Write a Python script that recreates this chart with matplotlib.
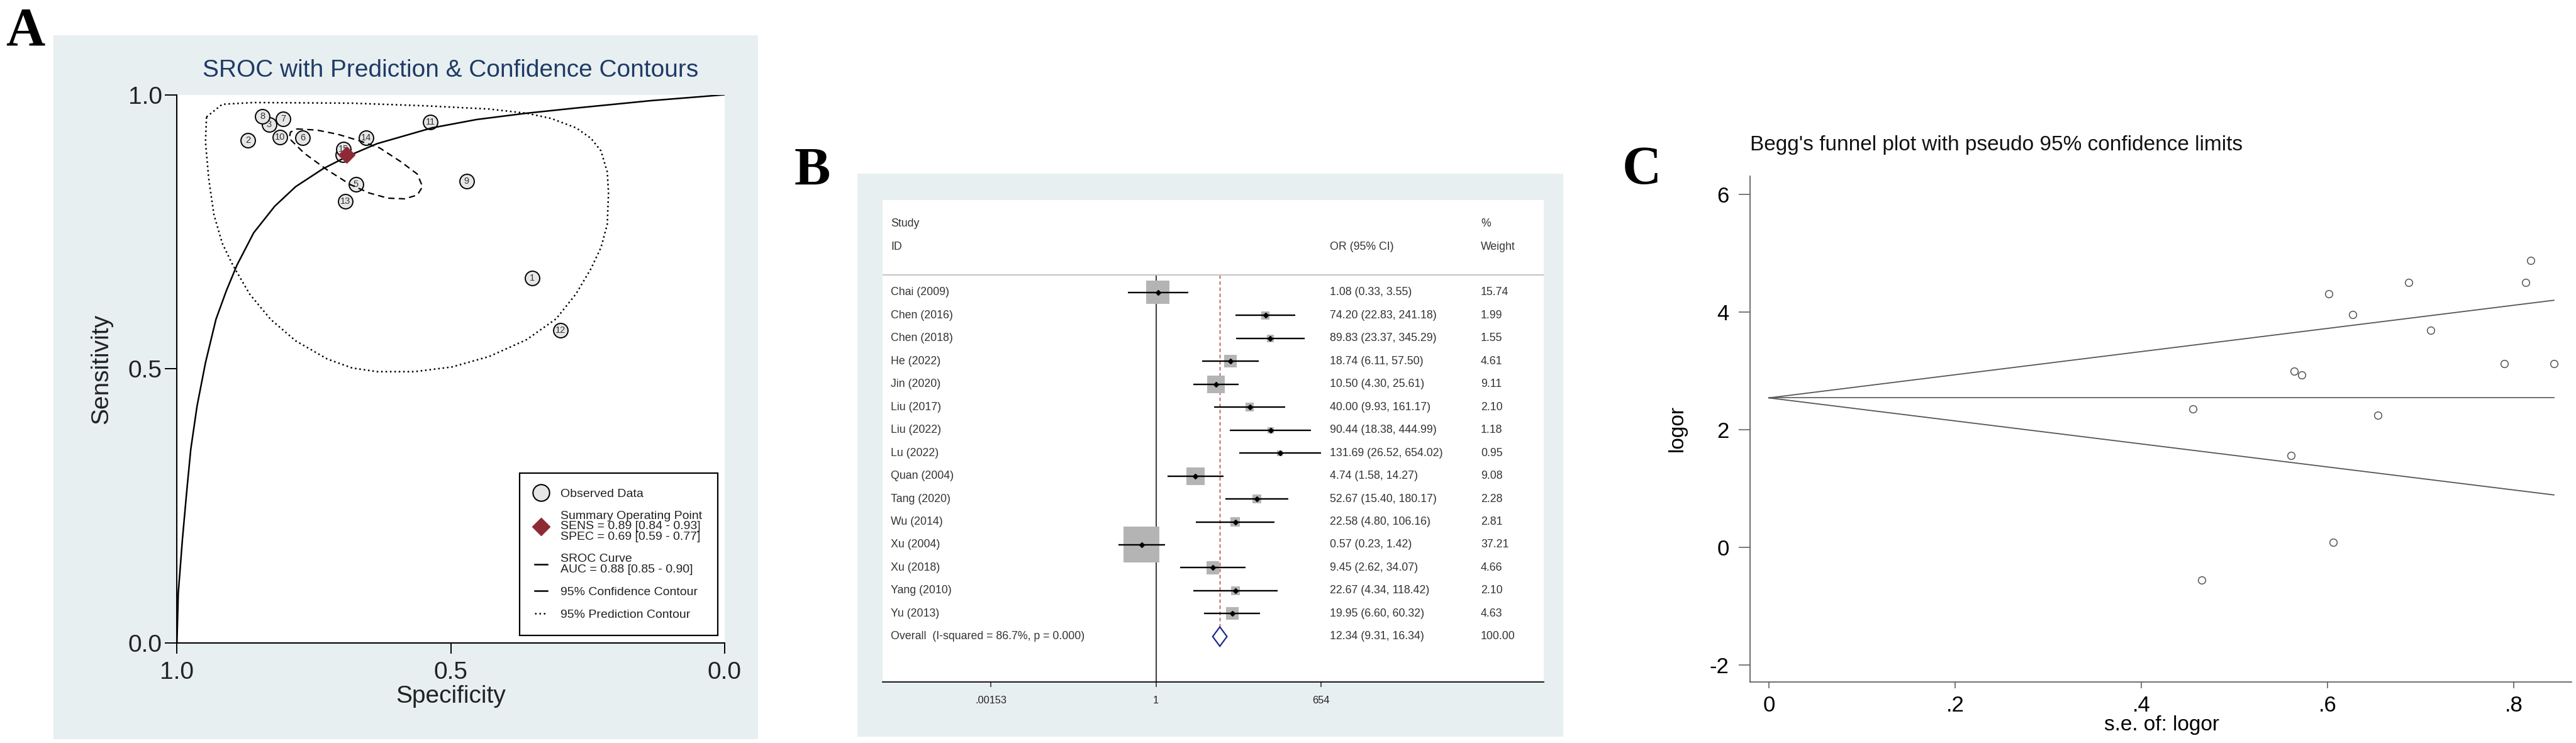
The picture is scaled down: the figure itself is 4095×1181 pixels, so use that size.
import numpy as np
import matplotlib
matplotlib.use("Agg")
import matplotlib.pyplot as plt
from matplotlib.lines import Line2D
from matplotlib.patches import Rectangle, Polygon
from matplotlib.ticker import NullLocator
from matplotlib.transforms import blended_transform_factory
from matplotlib import font_manager

plt.rcParams['axes.unicode_minus'] = False

# ---------------- Panel A data (SROC) ----------------
study_no = [1, 2, 3, 4, 5, 6, 7, 8, 9, 10, 11, 12, 13, 14, 15]
spec_obs = [0.351, 0.870, 0.832, 0.697, 0.673, 0.770, 0.806, 0.844, 0.471, 0.812, 0.537, 0.300, 0.693, 0.655, 0.696]
sens_obs = [0.666, 0.917, 0.946, 0.891, 0.836, 0.922, 0.956, 0.961, 0.842, 0.923, 0.950, 0.570, 0.806, 0.922, 0.901]

summary_sens = [0.89, 0.84, 0.93]
summary_spec = [0.69, 0.59, 0.77]
auc = [0.88, 0.85, 0.90]

sroc_spec = [1.000, 0.9976, 0.990, 0.9823, 0.9747, 0.9632, 0.9478, 0.9287, 0.9095, 0.8903,
             0.8598, 0.8214, 0.7832, 0.7334, 0.6882, 0.6344, 0.5345, 0.4527, 0.3618, 0.2709,
             0.1347, 0.000]
sroc_sens = [0.000, 0.0896, 0.1885, 0.2741, 0.3533, 0.4323, 0.5114, 0.5904, 0.6431, 0.6893,
             0.7482, 0.7966, 0.8323, 0.8649, 0.8879, 0.9108, 0.9395, 0.9548, 0.9663, 0.9758,
             0.9892, 1.000]

pred_spec = [0.9460, 0.9172, 0.8598, 0.6798, 0.5435, 0.4299, 0.3618, 0.3164, 0.2709, 0.2437,
             0.2256, 0.2142, 0.2119, 0.2142, 0.2256, 0.2437, 0.2709, 0.3074, 0.3618, 0.4299,
             0.4980, 0.5662, 0.6344, 0.6798, 0.7257, 0.7832, 0.8291, 0.8674, 0.8980, 0.9172,
             0.9325, 0.9420, 0.9478, 0.9460]
pred_sens = [0.9595, 0.9826, 0.9858, 0.9846, 0.9797, 0.9739, 0.9663, 0.9567, 0.9395, 0.9203,
             0.8974, 0.8592, 0.8208, 0.7634, 0.7214, 0.6831, 0.6372, 0.5913, 0.5530, 0.5224,
             0.5033, 0.4948, 0.4948, 0.5014, 0.5180, 0.5510, 0.5904, 0.6366, 0.6893, 0.7289,
             0.7814, 0.8474, 0.9134, 0.9595]

conf_spec = [0.7812, 0.7449, 0.7065, 0.6683, 0.6300, 0.5917, 0.5611, 0.5515, 0.5611, 0.5841,
             0.6146, 0.6491, 0.6836, 0.7257, 0.7679, 0.7947, 0.7927, 0.7812]
conf_sens = [0.9376, 0.9356, 0.9280, 0.9165, 0.9031, 0.8782, 0.8553, 0.8323, 0.8170, 0.8101,
             0.8113, 0.8208, 0.8362, 0.8630, 0.8936, 0.9203, 0.9318, 0.9376]

# ---------------- Panel B data (forest) ----------------
studies = ["Chai (2009)", "Chen (2016)", "Chen (2018)", "He (2022)", "Jin (2020)",
           "Liu (2017)", "Liu (2022)", "Lu (2022)", "Quan (2004)", "Tang (2020)",
           "Wu (2014)", "Xu (2004)", "Xu (2018)", "Yang (2010)", "Yu (2013)"]
or_est = [1.08, 74.20, 89.83, 18.74, 10.50, 40.00, 90.44, 131.69, 4.74, 52.67, 22.58, 0.57, 9.45, 22.67, 19.95]
or_lo = [0.33, 22.83, 23.37, 6.11, 4.30, 9.93, 18.38, 26.52, 1.58, 15.40, 4.80, 0.23, 2.62, 4.34, 6.60]
or_hi = [3.55, 241.18, 345.29, 57.50, 25.61, 161.17, 444.99, 654.02, 14.27, 180.17, 106.16, 1.42, 34.07, 118.42, 60.32]
weights = [15.74, 1.99, 1.55, 4.61, 9.11, 2.10, 1.18, 0.95, 9.08, 2.28, 2.81, 37.21, 4.66, 2.10, 4.63]
overall_or = [12.34, 9.31, 16.34]
overall_weight = 100.00
i_squared = 86.7
p_het = 0.000
forest_ticks = [0.00153, 1, 654]
forest_ticklabels = [".00153", "1", "654"]

# ---------------- Panel C data (funnel) ----------------
se_logor = [0.606, 0.601, 0.687, 0.572, 0.455, 0.711, 0.813, 0.818, 0.561, 0.627, 0.790, 0.465, 0.654, 0.843, 0.564]
logor = [0.08, 4.31, 4.50, 2.93, 2.35, 3.69, 4.50, 4.88, 1.56, 3.96, 3.12, -0.56, 2.25, 3.12, 2.99]
funnel_se = [0.0, 0.843]
funnel_center = [2.54, 2.54]
funnel_upper = [2.54, 4.20]
funnel_lower = [2.54, 0.89]
funnel_xticks = [0, 0.2, 0.4, 0.6, 0.8]
funnel_xticklabels = ["0", ".2", ".4", ".6", ".8"]
funnel_yticks = [-2, 0, 2, 4, 6]

# ---------------- styling ----------------
W, H = 4095, 1181
BG = '#e8eff1'
RED = '#8e2a36'
NAVY = '#1b2a8a'
SANS = 'Liberation Sans'


def has_font(name):
    try:
        font_manager.findfont(font_manager.FontProperties(family=name), fallback_to_default=False)
        return True
    except Exception:
        return False


if has_font('Liberation Sans Narrow'):
    NARROW, NSIZE = 'Liberation Sans Narrow', 15
else:
    NARROW, NSIZE = 'Liberation Sans', 12.8


def fr(x0, y0, x1, y1):
    return [x0 / W, 1 - y1 / H, (x1 - x0) / W, (y1 - y0) / H]


fig = plt.figure(figsize=(W / 100, H / 100), dpi=100)
fig.patch.set_facecolor('white')

# panel backgrounds
for (x0, y0, x1, y1) in [(85, 56, 1205, 1175), (1363, 276, 2485, 1171)]:
    fig.add_artist(Rectangle((x0 / W, 1 - y1 / H), (x1 - x0) / W, (y1 - y0) / H,
                             transform=fig.transFigure, facecolor=BG, edgecolor='none', zorder=-5))

# ================= Panel A =================
axA = fig.add_axes(fr(281.25, 150.6, 1151.8, 1021.8))
axA.set_facecolor('white')
axA.set_xlim(1, 0)
axA.set_ylim(0, 1)
for s in ['top', 'right']:
    axA.spines[s].set_visible(False)
for s in ['left', 'bottom']:
    axA.spines[s].set_linewidth(1.5)
    axA.spines[s].set_color('black')

DOT = (0, (1, 1.8))
axA.plot(pred_spec, pred_sens, color='black', lw=1.8, ls=DOT, zorder=3)
axA.plot(conf_spec, conf_sens, color='black', lw=1.6, ls=(0, (4.5, 3)), zorder=3)
axA.plot(sroc_spec, sroc_sens, color='black', lw=1.8, zorder=3)
axA.plot(spec_obs, sens_obs, ls='none', marker='o', ms=16.5, mfc='#e6e6e6', mec='black', mew=1.4, zorder=2)
for n, xs, ys in zip(study_no, spec_obs, sens_obs):
    axA.text(xs, ys, str(n), ha='center', va='center', fontsize=10.5, color='#333333',
             family=SANS, zorder=2.5)
axA.plot([summary_spec[0]], [summary_sens[0]], ls='none', marker='D', ms=13, mfc=RED, mec=RED, zorder=5)

axA.set_xticks([1.0, 0.5, 0.0])
axA.set_xticklabels(['1.0', '0.5', '0.0'])
axA.set_yticks([0.0, 0.5, 1.0])
axA.set_yticklabels(['0.0', '0.5', '1.0'])
axA.tick_params(axis='x', length=12, width=1.4, pad=9, labelsize=28, direction='out')
axA.tick_params(axis='y', length=14, width=1.4, pad=3, labelsize=28, direction='out')
for lab in axA.get_xticklabels() + axA.get_yticklabels():
    lab.set_family(SANS)
    lab.set_color('#222222')

axA.set_xlabel('Specificity', fontsize=28, family=SANS, color='#222222')
axA.xaxis.label.set_va('center')
axA.xaxis.set_label_coords(0.5, -0.098)
axA.set_ylabel('Sensitivity', fontsize=28, family=SANS, color='#222222')
axA.yaxis.label.set_va('center')
axA.yaxis.set_label_coords(-0.138, 0.5)
axA.set_title('SROC with Prediction & Confidence Contours', fontsize=28, family=SANS,
              color='#1f3a66', y=1.035, va='center')

handles = [
    Line2D([], [], ls='none', marker='o', ms=19, mfc='#e6e6e6', mec='black', mew=1.5),
    Line2D([], [], ls='none', marker='D', ms=14, mfc=RED, mec=RED),
    Line2D([], [], color='black', lw=1.8),
    Line2D([], [], color='black', lw=1.8),
    Line2D([], [], color='black', lw=1.8, ls=DOT),
]
labels = [
    'Observed Data',
    'Summary Operating Point\nSENS = {:.2f} [{:.2f} - {:.2f}]\nSPEC = {:.2f} [{:.2f} - {:.2f}]'.format(*summary_sens, *summary_spec),
    'SROC Curve\nAUC = {:.2f} [{:.2f} - {:.2f}]'.format(*auc),
    '95% Confidence Contour',
    '95% Prediction Contour',
]
leg = axA.legend(handles, labels, loc='lower left', bbox_to_anchor=(0.6258, 0.0135),
                 prop={'family': SANS, 'size': 14}, frameon=True, fancybox=False,
                 edgecolor='black', framealpha=1, borderpad=1.25, labelspacing=0.95,
                 handlelength=1.0, handletextpad=1.1, borderaxespad=0)
leg.get_frame().set_linewidth(1.6)
for t in leg.get_texts():
    t.set_linespacing(0.95)
    t.set_color('#222222')

# ================= Panel B =================
axB = fig.add_axes(fr(1403, 318, 2454, 1084))
axB.set_facecolor('white')
axB.set_xscale('log')
px_per_ln = 40.45
axB.set_xlim(np.exp((1403 - 1837.5) / px_per_ln), np.exp((2454 - 1837.5) / px_per_ln))
axB.set_ylim(16.98, -4.03)
for s in ['top', 'right', 'left']:
    axB.spines[s].set_visible(False)
axB.spines['bottom'].set_linewidth(1.3)
axB.set_yticks([])
axB.xaxis.set_minor_locator(NullLocator())
axB.set_xticks(forest_ticks)
axB.set_xticklabels(forest_ticklabels)
axB.tick_params(axis='x', length=6, width=1.1, pad=10, labelsize=NSIZE - 1, colors='#222222')
for lab in axB.get_xticklabels():
    lab.set_family(NARROW)

rows = np.arange(len(studies))
sep_y = -0.77
ov_row = len(studies)
axB.axhline(sep_y, color='#c6c6c6', lw=1.6)
axB.vlines(1, sep_y, 16.98, color='black', lw=1.1, zorder=1)
axB.vlines(overall_or[0], sep_y, ov_row - 0.42, color='#a83232', lw=1.0, ls=(0, (4, 3)), zorder=1)
axB.scatter(or_est, rows, marker='s', s=np.array(weights) * 45.26, color='#b4b4b4',
            linewidths=0, zorder=2)
axB.hlines(rows, or_lo, or_hi, color='black', lw=1.7, zorder=3)
axB.plot(or_est, rows, ls='none', marker='D', ms=4.5, color='black', zorder=4)
axB.add_patch(Polygon([(overall_or[1], ov_row), (overall_or[0], ov_row - 0.42),
                       (overall_or[2], ov_row), (overall_or[0], ov_row + 0.42)],
                      closed=True, fill=False, edgecolor=NAVY, lw=1.6, zorder=4))

tB = blended_transform_factory(axB.transAxes, axB.transData)
txt = dict(transform=tB, family=NARROW, fontsize=NSIZE, color='#333333', va='center')
x_name, x_or, x_w = 0.0124, 0.6765, 0.9049
axB.text(x_name, -2.99, 'Study', **txt)
axB.text(x_name, -2.0, 'ID', **txt)
axB.text(x_or, -2.0, 'OR (95% CI)', **txt)
axB.text(x_w, -2.99, '%', **txt)
axB.text(x_w, -2.0, 'Weight', **txt)
for r, name, e, lo, hi, w in zip(rows, studies, or_est, or_lo, or_hi, weights):
    axB.text(x_name, r, name, **txt)
    axB.text(x_or, r, '{:.2f} ({:.2f}, {:.2f})'.format(e, lo, hi), **txt)
    axB.text(x_w, r, '{:.2f}'.format(w), **txt)
axB.text(x_name, ov_row, 'Overall  (I-squared = {:.1f}%, p = {:.3f})'.format(i_squared, p_het), **txt)
axB.text(x_or, ov_row, '{:.2f} ({:.2f}, {:.2f})'.format(*overall_or), **txt)
axB.text(x_w, ov_row, '{:.2f}'.format(overall_weight), **txt)

# ================= Panel C =================
axC = fig.add_axes(fr(2782, 280, 4088, 1084))
axC.set_xlim(-0.0203, 0.862)
axC.set_ylim(-2.29, 6.31)
for s in ['top', 'right']:
    axC.spines[s].set_visible(False)
for s in ['left', 'bottom']:
    axC.spines[s].set_color('#555555')
    axC.spines[s].set_linewidth(1.2)
axC.plot(funnel_se, funnel_center, color='#666666', lw=1.3)
axC.plot(funnel_se, funnel_upper, color='#555555', lw=1.3)
axC.plot(funnel_se, funnel_lower, color='#555555', lw=1.3)
axC.plot(se_logor, logor, ls='none', marker='o', ms=8.4, mfc='none', mec='#555555', mew=1.1)
axC.set_xticks(funnel_xticks)
axC.set_xticklabels(funnel_xticklabels)
axC.set_yticks(funnel_yticks)
axC.set_yticklabels([str(v) for v in funnel_yticks])
axC.tick_params(axis='x', length=7, width=1.1, pad=8, labelsize=25, colors='#555555', labelcolor='black')
axC.tick_params(axis='y', length=13, width=1.1, pad=11, labelsize=25, colors='#555555', labelcolor='black')
for lab in axC.get_xticklabels() + axC.get_yticklabels():
    lab.set_family(SANS)
axC.set_xlabel('s.e. of: logor', fontsize=24, family=SANS)
axC.xaxis.label.set_va('center')
axC.xaxis.set_label_coords(0.5008, -0.0846)
axC.set_ylabel('logor', fontsize=24, family=SANS)
axC.yaxis.label.set_va('center')
axC.yaxis.set_label_coords(-0.0888, 0.501)
axC.set_title("Begg's funnel plot with pseudo 95% confidence limits", loc='left', fontsize=24,
              family=SANS, color='#111111', y=1.051, va='center')

# panel letters
for letter, x, yb in [('A', 9, 72), ('B', 1263, 294), ('C', 2579, 292)]:
    fig.text(x / W, 1 - yb / H, letter, family='Liberation Serif', fontweight='bold',
             fontsize=62, va='baseline', ha='left', color='black')

fig.savefig('out.png', dpi=100)
